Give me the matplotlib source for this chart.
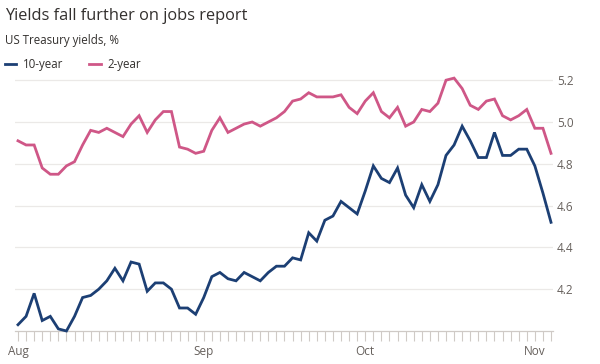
import numpy as np
import matplotlib
matplotlib.use("Agg")
import matplotlib.pyplot as plt
from matplotlib.lines import Line2D

# US Treasury yields (%), one value per trading day, 1 Aug - 3 Nov
ten_year = [4.03, 4.07, 4.18, 4.05, 4.07, 4.01, 4.00, 4.07, 4.16, 4.17,
            4.20, 4.24, 4.30, 4.24, 4.33, 4.32, 4.19, 4.23, 4.23, 4.20,
            4.11, 4.11, 4.08, 4.16, 4.26, 4.28, 4.25, 4.24, 4.28, 4.26,
            4.24, 4.28, 4.31, 4.31, 4.35, 4.34, 4.47, 4.43, 4.53, 4.55,
            4.62, 4.59, 4.56, 4.67, 4.79, 4.73, 4.71, 4.78, 4.65, 4.59,
            4.70, 4.62, 4.70, 4.84, 4.89, 4.98, 4.91, 4.83, 4.83, 4.95,
            4.84, 4.84, 4.87, 4.87, 4.79, 4.66, 4.52]
two_year = [4.91, 4.89, 4.89, 4.78, 4.75, 4.75, 4.79, 4.81, 4.89, 4.96,
            4.95, 4.97, 4.95, 4.93, 4.99, 5.03, 4.95, 5.01, 5.05, 5.05,
            4.88, 4.87, 4.85, 4.86, 4.96, 5.02, 4.95, 4.97, 4.99, 5.00,
            4.98, 5.00, 5.02, 5.05, 5.10, 5.11, 5.14, 5.12, 5.12, 5.12,
            5.13, 5.07, 5.04, 5.10, 5.14, 5.05, 5.02, 5.07, 4.98, 5.00,
            5.06, 5.05, 5.09, 5.20, 5.21, 5.16, 5.08, 5.06, 5.10, 5.11,
            5.03, 5.01, 5.03, 5.06, 4.97, 4.97, 4.85]
month_labels = ["Aug", "Sep", "Oct", "Nov"]
month_pos = [0, 23, 43, 64]   # trading-day index of first day of each month
y_ticks = [4.2, 4.4, 4.6, 4.8, 5.0, 5.2]

blue = "#1c3f74"
pink = "#cf5787"
text_dark = "#33302e"
text_grey = "#66605c"

plt.rcParams["font.family"] = ["Open Sans", "DejaVu Sans"]

fig = plt.figure(figsize=(6.0, 3.64), dpi=100)
ax = fig.add_axes([0.025, 0.0907, 0.8967, 0.7177])

x = np.arange(len(ten_year))
ax.plot(x, ten_year, color=blue, lw=2.0, solid_joinstyle="miter", clip_on=False, zorder=3)
ax.plot(x, two_year, color=pink, lw=2.0, solid_joinstyle="miter", clip_on=False, zorder=3)

ax.set_xlim(-0.37, 66.25)
ax.set_ylim(4.0, 5.25)

# right-hand value axis with light gridlines
ax.yaxis.tick_right()
ax.set_yticks(y_ticks)
ax.set_yticklabels([f"{v:.1f}" for v in y_ticks])
ax.tick_params(axis="y", length=0, pad=3, labelsize=8.5, labelcolor=text_grey)
ax.grid(axis="y", color="#ebe9e7", lw=0.9)

# daily tick marks, month labels
ax.set_xticks(x, minor=True)
ax.set_xticks(month_pos)
ax.set_xticklabels(month_labels)
ax.tick_params(axis="x", which="both", length=7, width=0.8, color="#cfcac6",
               labelsize=8.5, labelcolor=text_grey, pad=3)

for side in ["top", "left", "right"]:
    ax.spines[side].set_visible(False)
ax.spines["bottom"].set_color("#cfcac6")
ax.spines["bottom"].set_linewidth(0.9)

fig.text(0.008, 0.955, "Yields fall further on jobs report", fontsize=11.8,
         color=text_dark, va="center", ha="left")
fig.text(0.008, 0.888, "US Treasury yields, %", fontsize=8.3,
         color=text_dark, va="center", ha="left")

handles = [Line2D([0], [0], color=blue, lw=2.0),
           Line2D([0], [0], color=pink, lw=2.0)]
fig.legend(handles, ["10-year", "2-year"], loc="center left",
           bbox_to_anchor=(0.008, 0.822), ncol=2, frameon=False,
           borderpad=0, borderaxespad=0,
           fontsize=8.3, handlelength=1.0, handletextpad=0.6,
           columnspacing=2.2, labelcolor=text_dark)

fig.savefig("out.png", dpi=100, facecolor="white")
